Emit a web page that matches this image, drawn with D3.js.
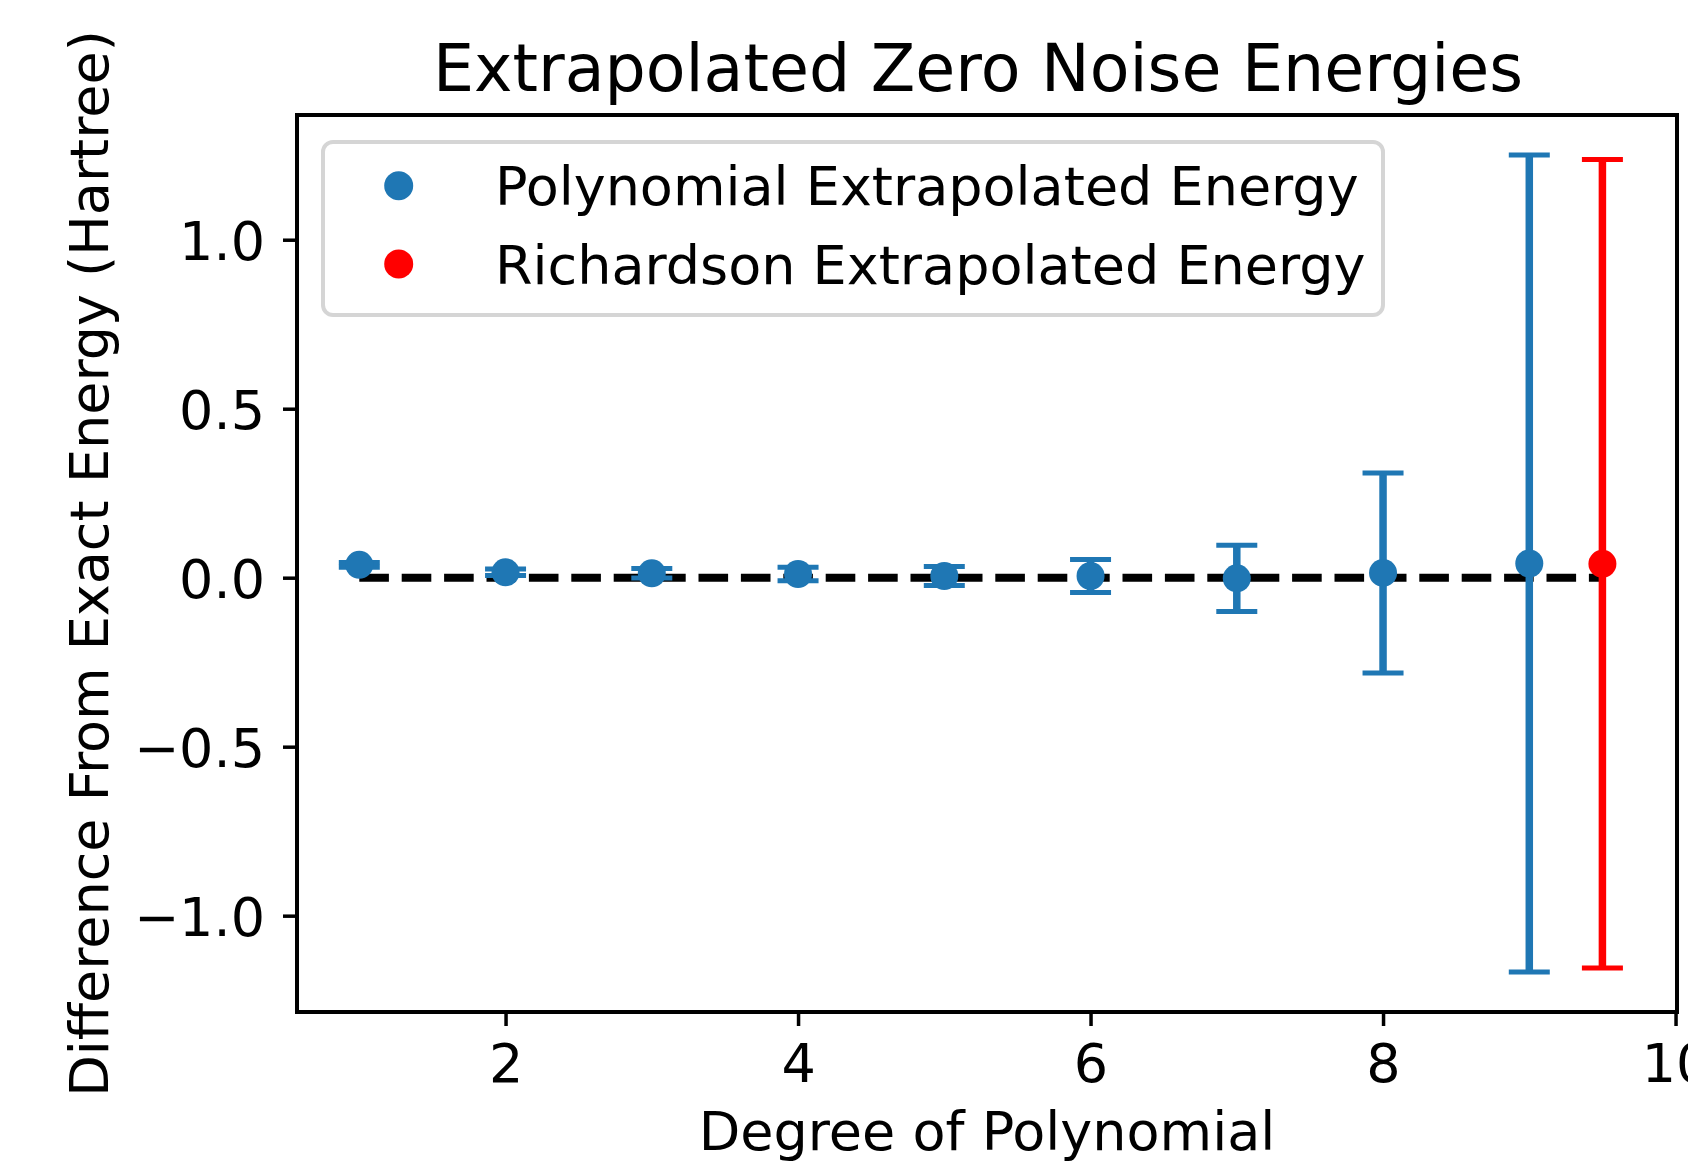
<!DOCTYPE html>
<head>
    <meta charset="utf-8">
    <script src="https://d3js.org/d3.v7.min.js"></script>
    <style>
        body {
            margin: 0;
            background: white;
        }

        text {
            font-family: "DejaVu Sans", sans-serif;
            fill: black;
        }
    </style>
</head>

<body>
<svg id="graph" width=1688 height=1162></svg>
<script>

    // polynomial extrapolation, one point per degree
    const degrees = [1, 2, 3, 4, 5, 6, 7, 8, 9];
    const polyEnergy = [0.038, 0.016, 0.013, 0.011, 0.005, 0.005, -0.002, 0.014, 0.042];
    const polyError = [0.007, 0.0095, 0.014, 0.02, 0.028, 0.049, 0.098, 0.296, 1.209];

    // richardson extrapolation
    const richX = [9.5];
    const richEnergy = [0.041];
    const richError = [1.196];

    const xTicks = [2, 4, 6, 8, 10];
    const yTicks = [-1.0, -0.5, 0.0, 0.5, 1.0];

    const legendLabels = ["Polynomial Extrapolated Energy", "Richardson Extrapolated Energy"];

    const blue = "#1f77b4", red = "#ff0000";

    const margin = {top: 115, right: 11, bottom: 150, left: 297};
    const W = 1688, H = 1162;
    const width = W - margin.left - margin.right,
        height = H - margin.top - margin.bottom;

    let svg = d3.select("#graph");

    let x = d3.scaleLinear()
        .domain([0.574, 10.01])
        .range([margin.left, margin.left + width]);

    let y = d3.scaleLinear()
        .domain([-1.285, 1.369])
        .range([margin.top + height, margin.top]);

    const fmt = function (d) {
        return d3.format(".1f")(d).replace("-", "\u2212");
    };

    // zero reference line
    svg.append("line")
        .attr("x1", x(1))
        .attr("x2", x(9.5))
        .attr("y1", y(0))
        .attr("y2", y(0))
        .attr("stroke", "black")
        .attr("stroke-width", 8)
        .attr("stroke-dasharray", "29.6,12.8");

    function drawErrorBars(xs, ys, errs, color) {
        let pts = xs.map(function (d, i) {
            return {x: d, y: ys[i], e: errs[i]};
        });
        let g = svg.append("g");
        g.selectAll("line.bar").data(pts).enter()
            .append("line")
            .attr("class", "bar")
            .attr("x1", function (d) { return x(d.x) })
            .attr("x2", function (d) { return x(d.x) })
            .attr("y1", function (d) { return y(d.y - d.e) })
            .attr("y2", function (d) { return y(d.y + d.e) })
            .attr("stroke", color)
            .attr("stroke-width", 7.5);
        [-1, 1].forEach(function (s) {
            g.selectAll("line.cap" + (s + 1)).data(pts).enter()
                .append("line")
                .attr("class", "cap" + (s + 1))
                .attr("x1", function (d) { return x(d.x) - 20.5 })
                .attr("x2", function (d) { return x(d.x) + 20.5 })
                .attr("y1", function (d) { return y(d.y + s * d.e) })
                .attr("y2", function (d) { return y(d.y + s * d.e) })
                .attr("stroke", color)
                .attr("stroke-width", 5);
        });
        g.selectAll("circle").data(pts).enter()
            .append("circle")
            .attr("cx", function (d) { return x(d.x) })
            .attr("cy", function (d) { return y(d.y) })
            .attr("r", 14)
            .style("fill", color);
    }

    drawErrorBars(degrees, polyEnergy, polyError, blue);
    drawErrorBars(richX, richEnergy, richError, red);

    // frame
    svg.append("rect")
        .attr("x", margin.left)
        .attr("y", margin.top)
        .attr("width", width)
        .attr("height", height)
        .attr("fill", "none")
        .attr("stroke", "black")
        .attr("stroke-width", 4);

    let xAxis = d3.axisBottom(x)
        .tickValues(xTicks)
        .tickFormat(d3.format("d"))
        .tickSize(14)
        .tickPadding(18);

    let yAxis = d3.axisLeft(y)
        .tickValues(yTicks)
        .tickFormat(fmt)
        .tickSize(14)
        .tickPadding(18);

    let gx = svg.append("g")
        .attr("transform", "translate(0," + (margin.top + height) + ")")
        .call(xAxis);

    let gy = svg.append("g")
        .attr("transform", "translate(" + margin.left + ",0)")
        .call(yAxis);

    [gx, gy].forEach(function (g) {
        g.select(".domain").remove();
        g.selectAll(".tick line").attr("stroke", "black").attr("stroke-width", 3.5);
        g.selectAll(".tick text")
            .style("font-family", "DejaVu Sans")
            .style("font-size", "54px")
            .attr("fill", "black");
    });
    gx.selectAll(".tick text").attr("dy", "0.71em");
    gy.selectAll(".tick text").attr("dy", "0.36em");

    svg.append("text")
        .attr("x", margin.left + width / 2)
        .attr("y", 1150)
        .style("text-anchor", "middle")
        .style("font-size", "54px")
        .text("Degree of Polynomial");

    svg.append("text")
        .attr("transform", "translate(108," + (margin.top + height / 2) + ") rotate(-90)")
        .style("text-anchor", "middle")
        .style("font-size", "54px")
        .text("Difference From Exact Energy (Hartree)");

    svg.append("text")
        .attr("x", 978)
        .attr("y", 91)
        .style("text-anchor", "middle")
        .style("font-size", "65px")
        .text("Extrapolated Zero Noise Energies");

    // legend
    let legend = svg.append("g");
    legend.append("rect")
        .attr("x", 323)
        .attr("y", 142)
        .attr("width", 1060)
        .attr("height", 173)
        .attr("rx", 10)
        .attr("fill", "white")
        .attr("fill-opacity", 0.8)
        .attr("stroke", "#d5d5d5")
        .attr("stroke-width", 4);

    const legendColors = [blue, red];
    legend.selectAll("circle")
        .data(legendLabels)
        .enter()
        .append("circle")
        .attr("cx", 398.7)
        .attr("cy", function (d, i) { return 185.7 + i * 78.3 })
        .attr("r", 14.5)
        .style("fill", function (d, i) { return legendColors[i] });

    legend.selectAll("text")
        .data(legendLabels)
        .enter()
        .append("text")
        .attr("x", 495)
        .attr("y", function (d, i) { return 185.7 + i * 78.3 + 19.5 })
        .style("font-size", "54px")
        .text(function (d) { return d });

</script>

</body>
